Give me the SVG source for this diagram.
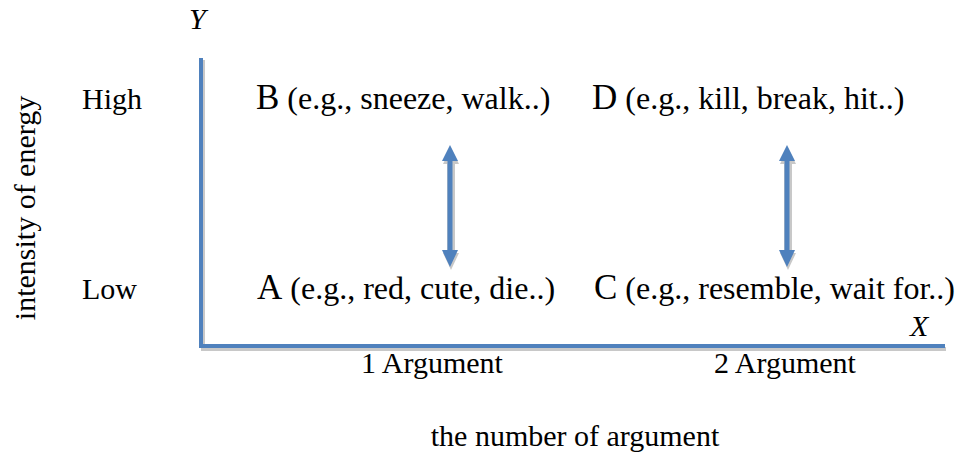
<svg xmlns="http://www.w3.org/2000/svg" width="962" height="453" viewBox="0 0 962 453">
<defs>
<style>
text{font-family:"Liberation Serif","Times New Roman",serif;fill:#000}
.t{font-size:30px}
.n{font-size:32px}
.big{font-size:35px}
.it{font-style:italic;font-size:30px}
.axis{stroke:#4f81bd;stroke-width:4;fill:none}
.shadow{stroke:#c8c8c8;stroke-width:4;fill:none}
.arr{fill:#4f81bd}
.arrs{fill:#c8c8c8}
</style>
</defs>
<rect width="962" height="453" fill="#fff"/>
<g id="axes">
<path class="shadow" d="M203 60 V349 H946"/>
<path class="axis" d="M201 58 V346 H945"/>
</g>
<g id="connectors">
<g id="arrow1">
<path class="arrs" d="M451 148 L459 164 L455 164 L455 253 L459 253 L451 270 L443 253 L447 253 L447 164 L443 164 Z"/>
<path class="arr" d="M450 145 L458 161 L452.5 161 L452.5 250 L458 250 L450 267 L442 250 L447.5 250 L447.5 161 L442 161 Z"/>
</g>
<g id="arrow2">
<path class="arrs" d="M788 148 L796 164 L792 164 L792 253 L796 253 L788 270 L780 253 L784 253 L784 164 L780 164 Z"/>
<path class="arr" d="M787 145 L795 161 L789.5 161 L789.5 250 L795 250 L787 267 L779 250 L784.5 250 L784.5 161 L779 161 Z"/>
</g>
</g>
<g id="labels">
<text class="it" x="189" y="29">Y</text>
<text class="it" x="910" y="336">X</text>
<text class="t" x="82" y="109">High</text>
<text class="t" x="82" y="299">Low</text>
<text class="t" transform="translate(35 208) rotate(-90)" text-anchor="middle">intensity of energy</text>
<text class="t" x="432" y="373" text-anchor="middle">1 Argument</text>
<text class="t" x="785" y="373" text-anchor="middle">2 Argument</text>
<text class="t" x="575" y="446" text-anchor="middle">the number of argument</text>
</g>
<g id="nodeB"><text x="256" y="109"><tspan class="big">B</tspan><tspan class="n"> (e.g., sneeze, walk..)</tspan></text></g>
<g id="nodeD"><text x="592" y="109"><tspan class="big">D</tspan><tspan class="n"> (e.g., kill, break, hit..)</tspan></text></g>
<g id="nodeA"><text x="257" y="299"><tspan class="big">A</tspan><tspan class="n"> (e.g., red, cute, die..)</tspan></text></g>
<g id="nodeC"><text x="594" y="299"><tspan class="big">C</tspan><tspan class="n"> (e.g., resemble, wait for..)</tspan></text></g>
</svg>
